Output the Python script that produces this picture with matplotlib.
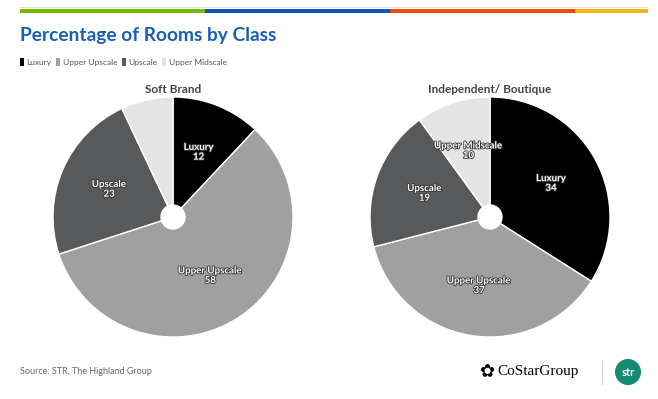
import matplotlib.pyplot as plt
import matplotlib.patheffects as pe
from matplotlib.patches import Rectangle, Circle, Ellipse, Patch

# --- data ---
CLASSES = ["Luxury", "Upper Upscale", "Upscale", "Upper Midscale"]
SOFT_BRAND = [12, 58, 23, 7]
INDEPENDENT = [34, 37, 19, 10]
SOFT_LABELS = ["Luxury\n12", "Upper Upscale\n58", "Upscale\n23", ""]
INDEP_LABELS = ["Luxury\n34", "Upper Upscale\n37", "Upscale\n19", "Upper Midscale\n10"]

CLASS_COLORS = ["#000000", "#a0a0a0", "#58595b", "#e4e4e4"]
BAR_COLORS = ["#76b900", "#0b57b5", "#ee4b00", "#fdb515"]

plt.rcParams.update({
    "font.family": ["Lato", "DejaVu Sans"],
    "figure.facecolor": "white",
})

W, H = 658, 399
fig = plt.figure(figsize=(W / 100, H / 100), dpi=100)


def fx(px):
    return px / W


def fy(py):
    return 1 - py / H


# top color strip
fig.patches.append(Rectangle((fx(20), fy(8)), fx(628), 1 / H, transform=fig.transFigure,
                             color="#dddddd", lw=0))
starts = [20, 205, 390, 575]
ends = [205, 390, 575, 648]
for s, e, c in zip(starts, ends, BAR_COLORS):
    fig.patches.append(Rectangle((fx(s), fy(13)), fx(e - s), 4 / H, transform=fig.transFigure,
                                 color=c, lw=0))

fig.text(fx(20), fy(35), "Percentage of Rooms by Class", fontsize=13.8, fontweight="bold",
         color="#1a5eb4", va="center", ha="left")

handles = [Patch(facecolor=c, edgecolor="none") for c in CLASS_COLORS]
fig.legend(handles, CLASSES, loc="center left", bbox_to_anchor=(fx(12), fy(62)), ncol=4,
           frameon=False, fontsize=6, handlelength=0.5, handleheight=1.2, handletextpad=0.35,
           columnspacing=0.5, labelcolor="#555555")


def draw_pie(left_px, values, labels, title):
    ax = fig.add_axes([fx(left_px), 62 / H, 240 / W, 240 / H])
    wedges, texts = ax.pie(values, colors=CLASS_COLORS, startangle=90, counterclock=False,
                           labels=labels, labeldistance=0.58,
                           wedgeprops=dict(edgecolor="white", linewidth=1))
    for t in texts:
        t.set_ha("center")
        t.set_va("center")
        t.set_fontsize(7)
        t.set_fontweight("bold")
        t.set_color("white")
        t.set_linespacing(1.1)
        t.set_path_effects([pe.withStroke(linewidth=1.2, foreground="#333333")])
    ax.add_patch(Circle((0, 0), 0.1, color="white", zorder=5))
    ax.set_aspect("equal")
    ax.set_xlim(-1, 1)
    ax.set_ylim(-1, 1)
    ax.set_title(title, fontsize=8.5, fontweight="bold", color="#444444", pad=3)
    return ax


draw_pie(53, SOFT_BRAND, SOFT_LABELS, "Soft Brand")
draw_pie(370, INDEPENDENT, INDEP_LABELS, "Independent/ Boutique")

fig.text(fx(20), fy(372), "Source: STR, The Highland Group", fontsize=6.5, color="#666666",
         va="center", ha="left")

# logos
fig.text(fx(487), fy(372), "\u273F", fontsize=13, color="black", va="center", ha="center",
         family=["DejaVu Sans"])
fig.text(fx(497), fy(372), "CoStarGroup", fontsize=11, color="black", va="center", ha="left",
         family=["Liberation Serif"])
fig.lines.append(plt.Line2D([fx(602), fx(602)], [fy(360), fy(384)], transform=fig.transFigure,
                            color="#cccccc", lw=0.8))
fig.patches.append(Ellipse((fx(628), fy(372)), 26 / W, 26 / H, transform=fig.transFigure,
                           color="#138a72", lw=0))
fig.text(fx(628), fy(372), "str", fontsize=8, fontweight="bold", color="white", va="center",
         ha="center")

fig.savefig("out.png", dpi=100, facecolor="white")
